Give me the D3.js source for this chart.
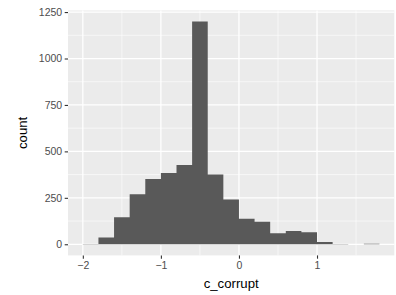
<!DOCTYPE html>
<html>
<head>
<meta charset="utf-8">
<script src="https://cdn.jsdelivr.net/npm/d3@7"></script>
<style>
  body { margin: 0; background: #fff; }
  text { font-family: "Liberation Sans", Arial, sans-serif; }
</style>
</head>
<body>
<div id="hist"></div>
<script>
// histogram of c_corrupt, binwidth 0.2
var binStarts = [-2.0, -1.8, -1.6, -1.4, -1.2, -1.0, -0.8, -0.6, -0.4, -0.2, 0.0, 0.2, 0.4, 0.6, 0.8, 1.0, 1.2, 1.4, 1.6]
var counts    = [2, 37, 145, 269, 352, 384, 427, 1199, 376, 241, 138, 121, 59, 72, 65, 12, 2, 0, 3]
var binWidth = 0.2

var xTicks = [-2, -1, 0, 1]
var xMinor = [-1.5, -0.5, 0.5, 1.5]
var yTicks = [0, 250, 500, 750, 1000, 1250]
var yMinor = [125, 375, 625, 875, 1125]

var cfg = {
  w: 396,
  h: 295,
  panel: {left: 68, right: 394.3, top: 10.4, bottom: 255.4},
  barFill: '#595959',
  panelBg: '#EBEBEB',
  tickLen: 3.3
}

var data = binStarts.map(function(s, i) {
  return {x0: s, x1: s + binWidth, count: counts[i]}
})

var xLo = d3.min(binStarts), xHi = d3.max(binStarts) + binWidth
var yHi = d3.max(counts)
var xPad = (xHi - xLo) * 0.05, yPad = yHi * 0.05

var x = d3.scaleLinear()
  .domain([xLo - xPad, xHi + xPad])
  .range([cfg.panel.left, cfg.panel.right])

var y = d3.scaleLinear()
  .domain([-yPad, yHi + yPad])
  .range([cfg.panel.bottom, cfg.panel.top])

var svg = d3.select('#hist').append('svg')
  .attr('width', cfg.w)
  .attr('height', cfg.h)

svg.append('rect')
  .attr('x', cfg.panel.left)
  .attr('y', cfg.panel.top)
  .attr('width', cfg.panel.right - cfg.panel.left)
  .attr('height', cfg.panel.bottom - cfg.panel.top)
  .style('fill', cfg.panelBg)

var grid = svg.append('g').attr('class', 'grid')

grid.selectAll('.minorX').data(xMinor).enter().append('line')
  .attr('x1', d => x(d)).attr('x2', d => x(d))
  .attr('y1', cfg.panel.top).attr('y2', cfg.panel.bottom)
  .style('stroke', '#fff').style('stroke-width', 0.6)

grid.selectAll('.minorY').data(yMinor).enter().append('line')
  .attr('y1', d => y(d)).attr('y2', d => y(d))
  .attr('x1', cfg.panel.left).attr('x2', cfg.panel.right)
  .style('stroke', '#fff').style('stroke-width', 0.6)

grid.selectAll('.majorX').data(xTicks).enter().append('line')
  .attr('x1', d => x(d)).attr('x2', d => x(d))
  .attr('y1', cfg.panel.top).attr('y2', cfg.panel.bottom)
  .style('stroke', '#fff').style('stroke-width', 1.25)

grid.selectAll('.majorY').data(yTicks).enter().append('line')
  .attr('y1', d => y(d)).attr('y2', d => y(d))
  .attr('x1', cfg.panel.left).attr('x2', cfg.panel.right)
  .style('stroke', '#fff').style('stroke-width', 1.25)

// one step path so neighbouring bins don't show seams
var stepArea = d3.area()
  .curve(d3.curveStepAfter)
  .x(d => x(d.x))
  .y0(y(0))
  .y1(d => y(d.count))

var steps = data.map(d => ({x: d.x0, count: d.count}))
steps.push({x: xHi, count: 0})

svg.append('path')
  .attr('class', 'bars')
  .attr('d', stepArea(steps))
  .style('fill', cfg.barFill)

var xAxis = svg.append('g')
  .attr('transform', 'translate(0,' + cfg.panel.bottom + ')')
  .call(d3.axisBottom(x).tickValues(xTicks).tickSize(cfg.tickLen).tickPadding(2.5).tickFormat(d3.format('d')))

var yAxis = svg.append('g')
  .attr('transform', 'translate(' + cfg.panel.left + ',0)')
  .call(d3.axisLeft(y).tickValues(yTicks).tickSize(cfg.tickLen).tickPadding(2.5).tickFormat(d3.format('d')))

;[xAxis, yAxis].forEach(function(a) {
  a.select('.domain').remove()
  a.selectAll('.tick line').style('stroke', '#333333').style('stroke-width', 1.1)
  a.selectAll('.tick text')
    .style('fill', '#4D4D4D')
    .style('font-size', '10.5px')
    .style('font-family', '"Liberation Sans", Arial, sans-serif')
})

svg.append('text')
  .attr('x', (cfg.panel.left + cfg.panel.right) / 2)
  .attr('y', 287.5)
  .attr('text-anchor', 'middle')
  .style('font-size', '13.2px')
  .style('fill', '#000')
  .text('c_corrupt')

svg.append('text')
  .attr('transform', 'translate(27.3,' + ((cfg.panel.top + cfg.panel.bottom) / 2) + ') rotate(-90)')
  .attr('text-anchor', 'middle')
  .style('font-size', '13.2px')
  .style('fill', '#000')
  .text('count')
</script>
</body>
</html>
